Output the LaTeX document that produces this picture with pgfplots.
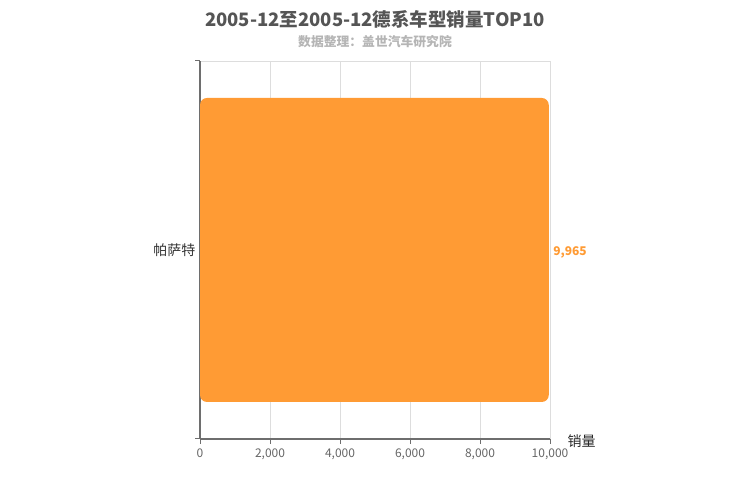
\documentclass[border=0pt]{standalone}
\usepackage{pgfplots}
\pgfplotsset{compat=1.18}
\usepackage{fontspec}
\setmainfont{Noto Sans CJK SC}
\definecolor{barorange}{HTML}{FF9B34}
\definecolor{axisgray}{HTML}{6E6E6E}
\definecolor{gridgray}{HTML}{DDDDDD}
\definecolor{titlegray}{HTML}{555555}
\definecolor{subgray}{HTML}{B5B5B5}
\definecolor{ticklab}{HTML}{666666}
\begin{document}
\begin{tikzpicture}[x=1pt,y=1pt]
    \path (0,0) rectangle (750,500);
    \node[font=\fontsize{18.5}{22}\selectfont\bfseries, text=titlegray] at (375,481) {2005-12至2005-12德系车型销量TOP10};
    \node[font=\fontsize{12.8}{14}\selectfont\bfseries, text=subgray] at (375,458) {数据整理：盖世汽车研究院};
    \begin{axis}[
        at={(200pt,61pt)}, anchor=south west,
        scale only axis, width=350pt, height=378pt,
        xbar, bar width=304pt,
        xmin=0, xmax=10000,
        ymin=-0.5, ymax=0.5,
        xtick={0,2000,...,10000},
        ytick={-0.5,0.5}, yticklabels={},
        extra y ticks={0}, extra y tick labels={帕萨特},
        extra y tick style={major tick length=0pt, ymajorgrids=false,
            tick label style={font=\fontsize{14}{16}\selectfont, text=black!80, xshift=-1pt}},
        scaled x ticks=false,
        /pgf/number format/.cd, 1000 sep={,}, assume math mode=true, /pgfplots/.cd,
        axis lines*=left,
        axis line style={axisgray, line width=1.2pt, -},
        tick style={axisgray, line width=1pt},
        tick align=outside, major tick length=5pt,
        xmajorgrids, ymajorgrids,
        grid style={gridgray, line width=0.8pt},
        tick label style={font=\fontsize{12}{14}\selectfont, text=ticklab},
        xticklabel style={yshift=-1pt},
        xlabel={销量},
        xlabel style={at={(axis description cs:1,0)}, anchor=west, xshift=14pt, yshift=-2pt,
            font=\fontsize{14}{16}\selectfont, text=black!85},
        nodes near coords,
        nodes near coords style={font=\fontsize{12}{14}\selectfont\bfseries, text=barorange, xshift=1pt, yshift=-2pt},
        clip=false,
    ]
        \addplot[fill=barorange, draw=none, rounded corners=7pt] coordinates {
            (9965,0)
        };
    \end{axis}
\end{tikzpicture}
\end{document}
